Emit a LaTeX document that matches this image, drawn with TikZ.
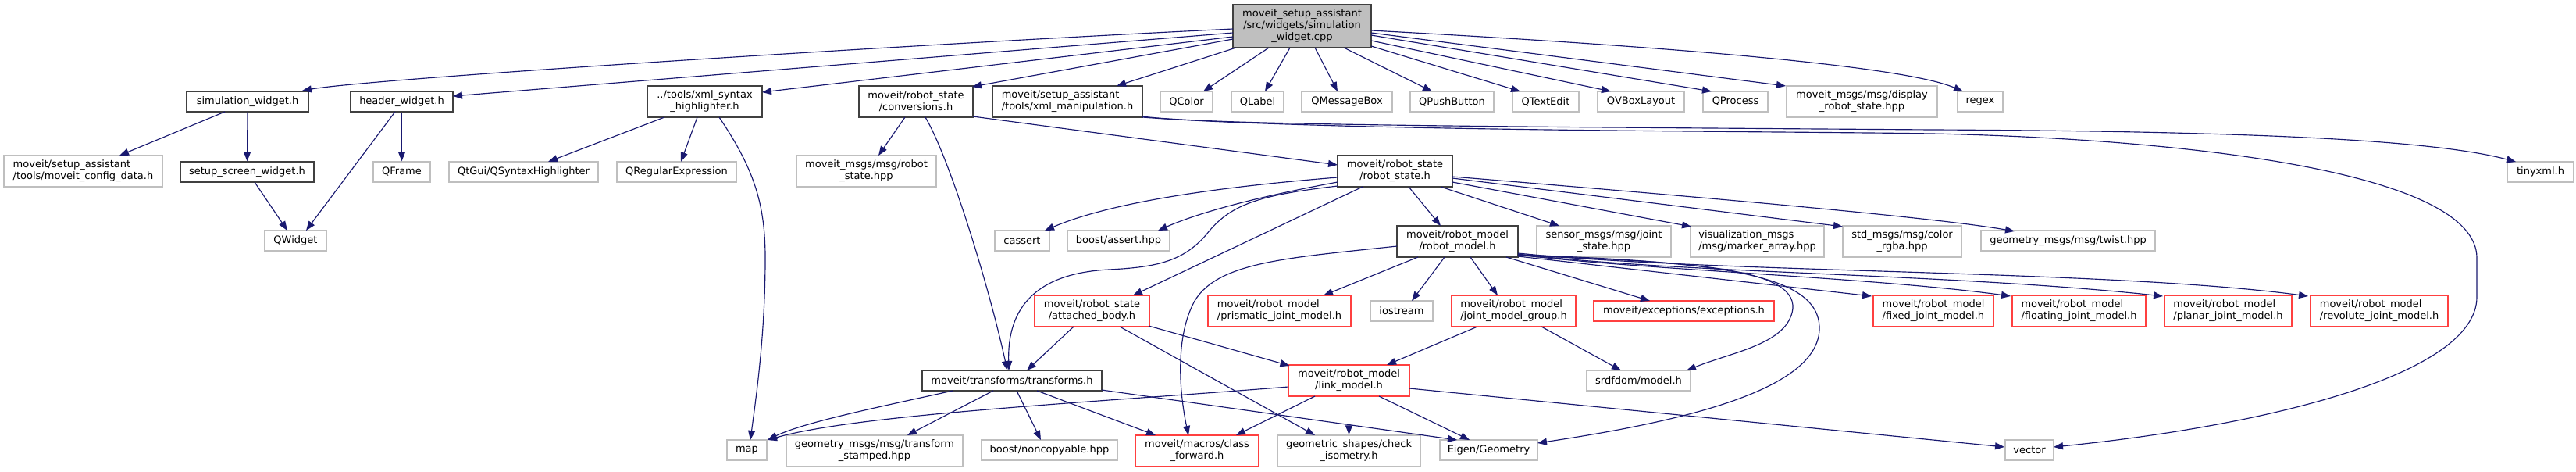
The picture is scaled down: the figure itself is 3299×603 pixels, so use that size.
\documentclass[tikz,border=0pt]{standalone}
\usepackage{fontspec}
\setmainfont{DejaVu Sans}
\usetikzlibrary{arrows.meta,calc}
\definecolor{edgec}{HTML}{191970}
\definecolor{grayb}{HTML}{BFBFBF}
\definecolor{darkb}{HTML}{404040}
\definecolor{redb}{HTML}{FF4040}
\begin{document}
\begin{tikzpicture}[x=1pt,y=-1pt,
  base/.style={rectangle, inner sep=0pt, line width=1.3pt, font=\fontsize{13pt}{15pt}\selectfont, align=center},
  docn/.style={base, draw=darkb, fill=white},
  undoc/.style={base, draw=grayb, fill=white},
  trunc/.style={base, draw=redb, fill=white},
  mainn/.style={base, draw=darkb, fill=grayb},
  lft/.style={align=left},
  conn/.style={draw=edgec, line width=1.15pt, -{Triangle[length=12pt,width=9pt]}}
]
\fill[white] (0,0) rectangle (3299,603);
\useasboundingbox (0,0) rectangle (3299,603);

% row 0
\node[mainn, minimum width=177pt, minimum height=55pt] (main) at (1667.5,33.5) {moveit\_setup\_assistant\\/src/widgets/simulation\\\_widget.cpp};
% row 1
\node[docn, minimum width=156pt, minimum height=26pt] (simw) at (317,130) {simulation\_widget.h};
\node[docn, minimum width=131pt, minimum height=26pt] (headw) at (514.5,130) {header\_widget.h};
\node[docn, minimum width=147pt, minimum height=40pt] (xmlsyn) at (902.5,130) {../tools/xml\_syntax\\\_highlighter.h};
\node[docn, minimum width=146pt, minimum height=40pt] (conv) at (1173,130) {moveit/robot\_state\\/conversions.h};
\node[docn, lft, minimum width=192pt, minimum height=40pt] (xmlman) at (1367,130) {moveit/setup\_assistant\\/tools/xml\_manipulation.h};
\node[undoc, minimum width=67pt, minimum height=26pt] (qcolor) at (1519.5,130) {QColor};
\node[undoc, minimum width=67pt, minimum height=26pt] (qlabel) at (1610.5,130) {QLabel};
\node[undoc, minimum width=116pt, minimum height=26pt] (qmsg) at (1725,130) {QMessageBox};
\node[undoc, minimum width=107pt, minimum height=26pt] (qpush) at (1859.5,130) {QPushButton};
\node[undoc, minimum width=85pt, minimum height=26pt] (qtext) at (1979.5,130) {QTextEdit};
\node[undoc, minimum width=111pt, minimum height=26pt] (qvbox) at (2101.5,130) {QVBoxLayout};
\node[undoc, minimum width=83pt, minimum height=26pt] (qproc) at (2222.5,130) {QProcess};
\node[undoc, minimum width=193pt, minimum height=40pt] (disp) at (2384.5,130) {moveit\_msgs/msg/display\\\_robot\_state.hpp};
\node[undoc, minimum width=58pt, minimum height=26pt] (regex) at (2536,130) {regex};
% row 2
\node[undoc, lft, minimum width=203pt, minimum height=40pt] (cfgdata) at (106.5,219) {moveit/setup\_assistant\\/tools/moveit\_config\_data.h};
\node[docn, minimum width=171pt, minimum height=26pt] (screen) at (316.5,220) {setup\_screen\_widget.h};
\node[undoc, minimum width=73pt, minimum height=26pt] (qframe) at (514.5,220) {QFrame};
\node[undoc, minimum width=191pt, minimum height=26pt] (qsyn) at (670.5,220) {QtGui/QSyntaxHighlighter};
\node[undoc, minimum width=153pt, minimum height=26pt] (qregex) at (866.5,220) {QRegularExpression};
\node[undoc, minimum width=179pt, minimum height=40pt] (rsmsg) at (1109.5,219) {moveit\_msgs/msg/robot\\\_state.hpp};
\node[docn, minimum width=147pt, minimum height=40pt] (rstate) at (1786.5,219) {moveit/robot\_state\\/robot\_state.h};
\node[undoc, minimum width=85pt, minimum height=26pt] (tinyxml) at (3253.5,220) {tinyxml.h};
% row 3
\node[undoc, minimum width=79pt, minimum height=26pt] (qwidget) at (378.5,308) {QWidget};
\node[undoc, minimum width=70pt, minimum height=26pt] (cassert) at (1309,308) {cassert};
\node[undoc, minimum width=131pt, minimum height=26pt] (bassert) at (1432.5,308) {boost/assert.hpp};
\node[docn, minimum width=155pt, minimum height=40pt] (rmodel) at (1866.5,309) {moveit/robot\_model\\/robot\_model.h};
\node[undoc, minimum width=172pt, minimum height=40pt] (joint) at (2054,309) {sensor\_msgs/msg/joint\\\_state.hpp};
\node[undoc, lft, minimum width=171pt, minimum height=40pt] (marker) at (2250.5,309) {visualization\_msgs\\/msg/marker\_array.hpp};
\node[undoc, minimum width=152pt, minimum height=40pt] (color) at (2436,309) {std\_msgs/msg/color\\\_rgba.hpp};
\node[undoc, minimum width=223pt, minimum height=26pt] (twist) at (2648.5,308) {geometry\_msgs/msg/twist.hpp};
% row 4
\node[trunc, minimum width=147pt, minimum height=40pt] (attached) at (1398.5,398) {moveit/robot\_state\\/attached\_body.h};
\node[trunc, lft, minimum width=183pt, minimum height=40pt] (prism) at (1638.5,398) {moveit/robot\_model\\/prismatic\_joint\_model.h};
\node[undoc, minimum width=80pt, minimum height=26pt] (iostream) at (1795,398) {iostream};
\node[trunc, lft, minimum width=159pt, minimum height=40pt] (jmg) at (1938.5,398) {moveit/robot\_model\\/joint\_model\_group.h};
\node[trunc, minimum width=231pt, minimum height=26pt] (except) at (2156.5,398) {moveit/exceptions/exceptions.h};
\node[trunc, lft, minimum width=154pt, minimum height=40pt] (fixed) at (2476,398) {moveit/robot\_model\\/fixed\_joint\_model.h};
\node[trunc, lft, minimum width=171pt, minimum height=40pt] (floating) at (2662.5,398) {moveit/robot\_model\\/floating\_joint\_model.h};
\node[trunc, lft, minimum width=163pt, minimum height=40pt] (planar) at (2853.5,398) {moveit/robot\_model\\/planar\_joint\_model.h};
\node[trunc, lft, minimum width=176pt, minimum height=40pt] (revolute) at (3047,398) {moveit/robot\_model\\/revolute\_joint\_model.h};
% row 5
\node[docn, minimum width=230pt, minimum height=26pt] (transforms) at (1296,487) {moveit/transforms/transforms.h};
\node[trunc, minimum width=155pt, minimum height=40pt] (link) at (1727.5,487) {moveit/robot\_model\\/link\_model.h};
\node[undoc, minimum width=133pt, minimum height=26pt] (srdf) at (2098.5,487) {srdfdom/model.h};
% row 6
\node[undoc, minimum width=51pt, minimum height=26pt] (map) at (956.5,576) {map};
\node[undoc, minimum width=226pt, minimum height=40pt] (tfstamped) at (1120,577) {geometry\_msgs/msg/transform\\\_stamped.hpp};
\node[undoc, minimum width=174pt, minimum height=26pt] (noncopy) at (1344,576) {boost/noncopyable.hpp};
\node[trunc, minimum width=158pt, minimum height=40pt] (classfwd) at (1533,577) {moveit/macros/class\\\_forward.h};
\node[undoc, minimum width=183pt, minimum height=40pt] (checkiso) at (1727.5,577) {geometric\_shapes/check\\\_isometry.h};
\node[undoc, minimum width=125pt, minimum height=26pt] (eigen) at (1906.5,576) {Eigen/Geometry};
\node[undoc, minimum width=62pt, minimum height=26pt] (vector) at (2599,576) {vector};

% edges from main
\draw[conn] ($(main)+(-88.5,3.5)$) .. controls (1200,55) and (480,100) .. ($(simw)+(70,-14)$);
\draw[conn] ($(main)+(-88.5,8.5)$) -- ($(headw)+(65.5,-7)$);
\draw[conn] ($(main)+(-88.5,13.5)$) -- ($(xmlsyn)+(73.5,-12)$);
\draw[conn] ($(main)+(-88.5,16.5)$) -- ($(conv)+(72,-19)$);
\draw[conn] ($(main)+(-84.5,27.5)$) -- ($(xmlman)+(63,-20)$);
\draw[conn] ($(main)+(-42.5,27.5)$) -- ($(qcolor)+(21.5,-13)$);
\draw[conn] ($(main)+(-15.5,27.5)$) -- ($(qlabel)+(9.5,-13)$);
\draw[conn] ($(main)+(16.5,27.5)$) -- ($(qmsg)+(-12,-13)$);
\draw[conn] ($(main)+(53.5,27.5)$) -- ($(qpush)+(-25.5,-13)$);
\draw[conn] ($(main)+(88.5,25.5)$) -- ($(qtext)+(-32.5,-13)$);
\draw[conn] ($(main)+(88.5,18.5)$) -- ($(qvbox)+(-38.5,-13)$);
\draw[conn] ($(main)+(88.5,11.5)$) -- ($(qproc)+(-30.5,-13)$);
\draw[conn] ($(main)+(88.5,8.5)$) -- ($(disp)+(-97.5,-20)$);
\draw[conn] ($(main)+(88.5,5.5)$) .. controls (2150,60) and (2440,85) .. ($(regex)+(-22,-13)$);

% simulation_widget, header_widget, setup_screen
\draw[conn] ($(simw)+(-29,13)$) -- ($(cfgdata)+(46.5,-20)$);
\draw[conn] (simw.south) -- (screen.north);
\draw[conn] ($(screen)+(9.5,13)$) -- ($(qwidget)+(-10.5,-13)$);
\draw[conn] ($(headw)+(-8.5,13)$) -- ($(qwidget)+(13.5,-13)$);
\draw[conn] (headw.south) -- (qframe.north);

% xml_syntax_highlighter
\draw[conn] ($(xmlsyn)+(-51.5,20)$) -- ($(qsyn)+(31.5,-13)$);
\draw[conn] ($(xmlsyn)+(-9.5,20)$) -- ($(qregex)+(5.5,-13)$);
\draw[conn] ($(xmlsyn)+(18.5,20)$) .. controls (965,215) and (980,260) .. (980,330) .. controls (980,430) and (968,510) .. ($(map)+(4.5,-13)$);

% conversions
\draw[conn] ($(conv)+(-14,20)$) -- ($(rsmsg)+(15.5,-20)$);
\draw[conn] ($(conv)+(12,20)$) .. controls (1215,200) and (1265,360) .. ($(transforms)+(-6,-13)$);
\draw[conn] ($(conv)+(73,19)$) -- ($(rstate)+(-73.5,-8)$);

% xml_manipulation
\draw[conn] ($(xmlman)+(96,19)$) .. controls (1550,160) and (1900,162) .. (2475,166) .. controls (2900,168) and (3120,180) .. ($(tinyxml)+(-31.5,-13)$);
\draw[conn] ($(xmlman)+(96,20)$) .. controls (1700,168) and (2300,168) .. (2475,171) .. controls (2800,178) and (3172,220) .. (3172,330) -- (3172,380) .. controls (3172,480) and (2900,545) .. ($(vector)+(31,-4)$);

% robot_state
\draw[conn] ($(rstate)+(17.5,20)$) -- ($(rmodel)+(-21.5,-20)$);
\draw[conn] ($(rstate)+(58.5,20)$) -- ($(joint)+(-57,-20)$);
\draw[conn] ($(rstate)+(73.5,14)$) -- ($(marker)+(-84.5,-19)$);
\draw[conn] ($(rstate)+(73.5,9)$) -- ($(color)+(-76,-19)$);
\draw[conn] ($(rstate)+(73.5,7)$) .. controls (2300,262) and (2500,282) .. ($(twist)+(-68.5,-12)$);
\draw[conn] ($(rstate)+(-73.5,8)$) .. controls (1550,240) and (1420,260) .. ($(cassert)+(29,-13)$);
\draw[conn] ($(rstate)+(-73.5,14)$) .. controls (1620,250) and (1540,270) .. ($(bassert)+(50.5,-13)$);
\draw[conn] ($(rstate)+(-73.5,19)$) .. controls (1610,250) and (1575,262) .. (1545,300) .. controls (1515,335) and (1480,342) .. (1420,345) .. controls (1320,350) and (1290,400) .. ($(transforms)+(-4,-13)$);
\draw[conn] ($(rstate)+(-41.5,20)$) -- ($(attached)+(52.5,-20)$);

% robot_model
\draw[conn] ($(rmodel)+(-50.5,20)$) -- ($(prism)+(56.5,-20)$);
\draw[conn] ($(rmodel)+(-16.5,20)$) -- ($(iostream)+(13,-13)$);
\draw[conn] ($(rmodel)+(16.5,20)$) -- ($(jmg)+(-20.5,-20)$);
\draw[conn] ($(rmodel)+(62.5,20)$) -- ($(except)+(-43.5,-13)$);
\draw[conn] ($(rmodel)+(77.5,19)$) -- ($(fixed)+(-79,-19)$);
\draw[conn] ($(rmodel)+(77.5,17)$) .. controls (2100,345) and (2400,355) .. ($(floating)+(-87.5,-19)$);
\draw[conn] ($(rmodel)+(77.5,16)$) .. controls (2150,350) and (2500,350) .. ($(planar)+(-83.5,-19)$);
\draw[conn] ($(rmodel)+(77.5,15)$) .. controls (2200,350) and (2700,345) .. ($(revolute)+(-91,-19)$);
\draw[conn] ($(rmodel)+(77.5,18)$) .. controls (2150,335) and (2300,340) .. (2296,395) .. controls (2290,440) and (2220,450) .. ($(srdf)+(61.5,-13)$);
\draw[conn] ($(rmodel)+(77.5,17)$) .. controls (2200,335) and (2330,350) .. (2330,420) .. controls (2330,500) and (2150,540) .. ($(eigen)+(62.5,-9)$);
\draw[conn] ($(rmodel)+(-77.5,6)$) .. controls (1650,330) and (1560,335) .. (1530,385) .. controls (1505,430) and (1510,500) .. ($(classfwd)+(-11,-20)$);

% attached_body
\draw[conn] ($(attached)+(-23.5,20)$) -- ($(transforms)+(19,-13)$);
\draw[conn] ($(attached)+(72.5,19)$) -- ($(link)+(-76,-19)$);
\draw[conn] ($(attached)+(35.5,20)$) -- ($(checkiso)+(-43.5,-20)$);

% joint_model_group
\draw[conn] ($(jmg)+(-46.5,20)$) -- ($(link)+(48.5,-20)$);
\draw[conn] ($(jmg)+(35.5,20)$) -- ($(srdf)+(-22.5,-13)$);

% link_model
\draw[conn] ($(link)+(-77.5,8)$) .. controls (1400,515) and (1100,530) .. ($(map)+(26.5,-13)$);
\draw[conn] ($(link)+(-43.5,20)$) -- ($(classfwd)+(50,-20)$);
\draw[conn] (link.south) -- (checkiso.north);
\draw[conn] ($(link)+(38.5,20)$) -- ($(eigen)+(-24.5,-13)$);
\draw[conn] ($(link)+(77.5,10)$) -- ($(vector)+(-32,-4)$);

% transforms
\draw[conn] ($(transforms)+(-76,13)$) .. controls (1130,520) and (1030,540) .. ($(map)+(26.5,-13)$);
\draw[conn] ($(transforms)+(-24,13)$) -- ($(tfstamped)+(42,-20)$);
\draw[conn] ($(transforms)+(6,13)$) -- ($(noncopy)+(-11,-13)$);
\draw[conn] ($(transforms)+(32,13)$) -- ($(classfwd)+(-53,-20)$);
\draw[conn] ($(transforms)+(115,12)$) -- ($(eigen)+(-40.5,-13)$);
\end{tikzpicture}
\end{document}
